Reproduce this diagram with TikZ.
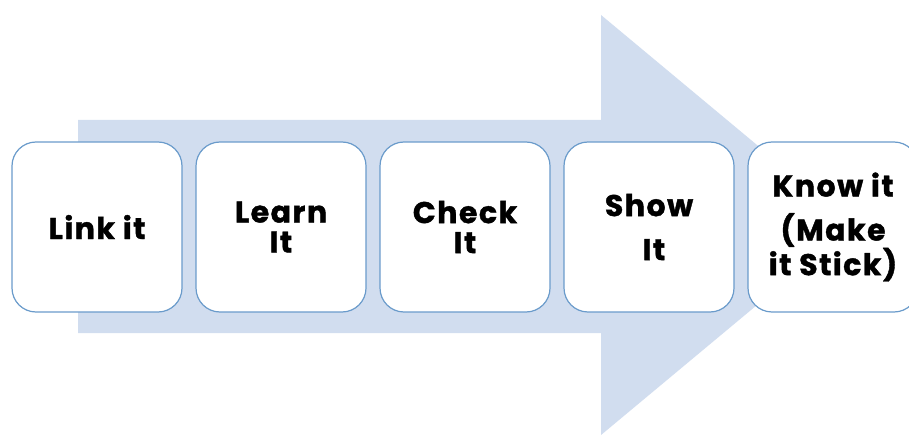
\documentclass[tikz,border=0pt]{standalone}
\usepackage{fontspec}
\setmainfont{Poppins}[LetterSpace=5, BoldFeatures={FakeBold=1.3}]
\definecolor{arrowblue}{HTML}{D1DDEF}
\definecolor{boxblue}{HTML}{6A9BCB}
\begin{document}
\begin{tikzpicture}[x=1pt,y=-1pt,
  stagebox/.style={draw=boxblue, line width=1.2pt, fill=white,
    rounded corners=24pt, minimum width=170pt, minimum height=170pt,
    inner sep=0pt, align=center, font=\fontsize{30}{30}\selectfont\bfseries}]
  \clip (0,0) rectangle (909,435);
  \useasboundingbox (0,0) rectangle (909,435);
  % large process arrow behind the stages
  \fill[arrowblue] (78,120) -- (601,120) -- (601,15) -- (853,225)
    -- (601,435) -- (601,333) -- (78,333) -- cycle;
  % stages
  \node[stagebox] (link)  at (97,227)  {Link it};
  \node[stagebox] (learn) at (281,227) {Learn\\It};
  \node[stagebox] (check) at (465,227) {Check\\It};
  \node[stagebox] (show)  at (649,227) {Show\\[14pt]\hspace*{10pt}It};
  \node[stagebox] (know)  at (833,227) {Know it\\[14pt](Make\\it Stick)};
\end{tikzpicture}
\end{document}
